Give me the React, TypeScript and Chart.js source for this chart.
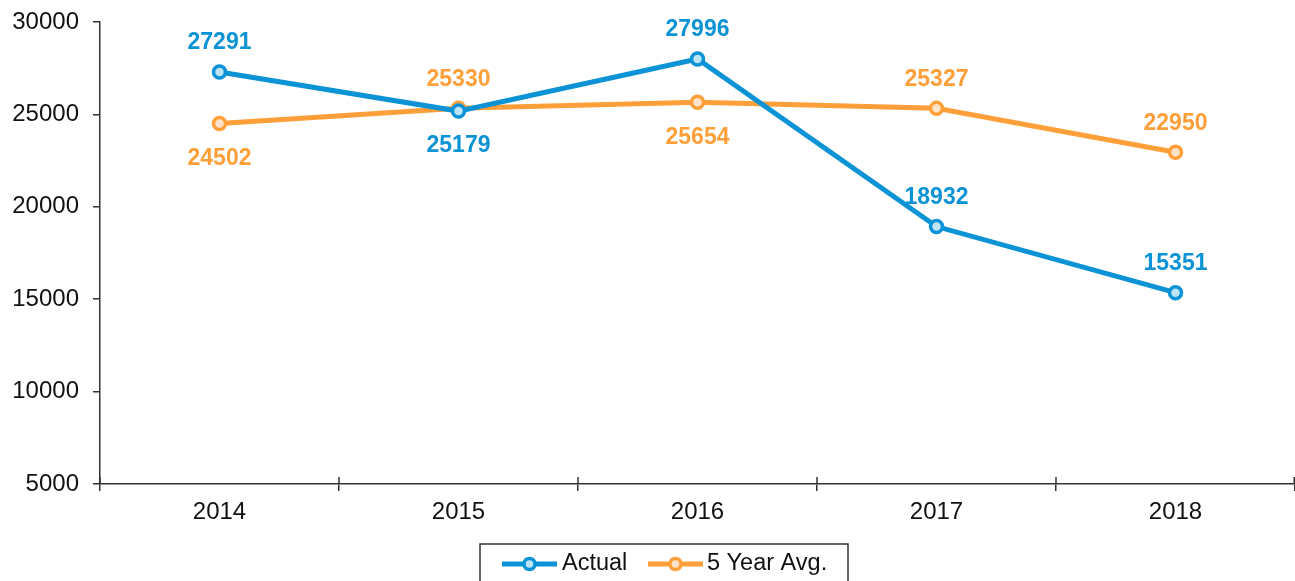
import React, { useEffect, useRef } from "react";
import { Chart, registerables } from "chart.js";

Chart.register(...registerables);

const categories = ["2014", "2015", "2016", "2017", "2018"];
const actualValues = [27291, 25179, 27996, 18932, 15351];
const avgValues = [24502, 25330, 25654, 25327, 22950];
const actualLabelPos = ["above", "below", "above", "above", "above"];
const avgLabelPos = ["below", "above", "below", "above", "above"];
const seriesNames = ["Actual", "5 Year Avg."];

const BLUE = "#0B93D5";
const BLUE_FILL = "#BEE5F7";
const ORANGE = "#FF9F3A";
const ORANGE_FILL = "#FDE3C9";
const AXIS = "#333333";
const FONT = "'Liberation Sans', Arial, sans-serif";

const labelPositions = [actualLabelPos, avgLabelPos];

const dataLabelPlugin = {
  id: "dataLabels",
  afterDatasetsDraw(chart: any) {
    const ctx = chart.ctx;
    ctx.save();
    ctx.font = `bold 23px ${FONT}`;
    ctx.textAlign = "center";
    ctx.textBaseline = "middle";
    chart.data.datasets.forEach((ds: any, di: number) => {
      const meta = chart.getDatasetMeta(di);
      ctx.fillStyle = ds.borderColor;
      meta.data.forEach((pt: any, i: number) => {
        const pos = labelPositions[di][i];
        const y = pos === "above" ? pt.y - 29 : pt.y + 35;
        ctx.fillText(String(ds.data[i]), pt.x, y);
      });
    });
    ctx.restore();
  },
};

const axisExtrasPlugin = {
  id: "axisExtras",
  afterDraw(chart: any) {
    const ctx = chart.ctx;
    const area = chart.chartArea;
    ctx.save();
    ctx.strokeStyle = AXIS;
    ctx.lineWidth = 1.5;
    const n = chart.data.labels.length;
    const w = (area.right - area.left) / n;
    for (let i = 0; i <= n; i++) {
      const x = Math.min(area.left + i * w, area.right - 0.75);
      ctx.beginPath();
      ctx.moveTo(x, area.bottom);
      ctx.lineTo(x, area.bottom - 7);
      ctx.stroke();
    }
    // legend
    const bx = 480, by = 544, bw = 368, bh = 50;
    ctx.lineWidth = 1.5;
    ctx.strokeStyle = AXIS;
    ctx.strokeRect(bx, by, bw, bh);
    const items = [
      { x0: 502, x1: 557, tx: 562, color: BLUE, fill: BLUE_FILL, name: seriesNames[0] },
      { x0: 648, x1: 703, tx: 707, color: ORANGE, fill: ORANGE_FILL, name: seriesNames[1] },
    ];
    const cy = 564;
    items.forEach((it) => {
      ctx.strokeStyle = it.color;
      ctx.lineWidth = 5;
      ctx.beginPath();
      ctx.moveTo(it.x0, cy);
      ctx.lineTo(it.x1, cy);
      ctx.stroke();
      ctx.beginPath();
      ctx.arc((it.x0 + it.x1) / 2, cy, 5.5, 0, Math.PI * 2);
      ctx.fillStyle = it.fill;
      ctx.fill();
      ctx.lineWidth = 3.5;
      ctx.stroke();
      ctx.fillStyle = "#111";
      ctx.font = `23.5px ${FONT}`;
      ctx.textAlign = "left";
      ctx.textBaseline = "middle";
      ctx.fillText(it.name, it.tx, cy);
    });
    ctx.restore();
  },
};

export default function App() {
  const ref = useRef<HTMLCanvasElement>(null);
  useEffect(() => {
    if (!ref.current) return;
    const chart = new Chart(ref.current, {
      type: "line",
      data: {
        labels: categories,
        datasets: [
          {
            label: seriesNames[0],
            data: actualValues,
            borderColor: BLUE,
            backgroundColor: BLUE_FILL,
            pointBackgroundColor: BLUE_FILL,
            pointBorderColor: BLUE,
            borderWidth: 5,
            pointRadius: 6,
            pointBorderWidth: 3.5,
            tension: 0,
          },
          {
            label: seriesNames[1],
            data: avgValues,
            borderColor: ORANGE,
            backgroundColor: ORANGE_FILL,
            pointBackgroundColor: ORANGE_FILL,
            pointBorderColor: ORANGE,
            borderWidth: 5,
            pointRadius: 6,
            pointBorderWidth: 3.5,
            tension: 0,
          },
        ],
      },
      options: {
        animation: false,
        responsive: false,
        maintainAspectRatio: false,
        layout: { autoPadding: false, padding: { top: 22, left: 0, right: 0, bottom: 0 } },
        plugins: {
          legend: { display: false },
          tooltip: { enabled: false },
        },
        scales: {
          x: {
            offset: true,
            grid: {
              display: true,
              offset: true,
              drawOnChartArea: false,
              drawTicks: true,
              tickLength: 7,
              color: AXIS,
              lineWidth: 1.5,
            },
            border: { display: true, color: AXIS, width: 1.5 },
            ticks: {
              color: "#111",
              font: { family: FONT, size: 24 },
              padding: 7,
              maxRotation: 0,
            },
            afterFit: (s: any) => {
              s.height = 97;
              s.paddingLeft = 0;
              s.paddingRight = 0;
            },
          },
          y: {
            min: 5000,
            max: 30000,
            grid: {
              display: true,
              drawOnChartArea: false,
              drawTicks: true,
              tickLength: 7,
              color: AXIS,
              lineWidth: 1.5,
            },
            border: { display: true, color: AXIS, width: 1.5 },
            ticks: {
              stepSize: 5000,
              color: "#111",
              font: { family: FONT, size: 24 },
              padding: 14,
              callback: (v: any) => String(v),
            },
            afterFit: (s: any) => {
              s.width = 100;
              s.paddingTop = 0;
              s.paddingBottom = 0;
            },
          },
        },
      },
      plugins: [dataLabelPlugin, axisExtrasPlugin],
    });
    return () => chart.destroy();
  }, []);
  return (
    <div style={{ position: "fixed", left: 0, top: 0, width: 1295, height: 581, background: "#fff" }}>
      <canvas ref={ref} width={1295} height={581} style={{ display: "block" }} />
    </div>
  );
}
